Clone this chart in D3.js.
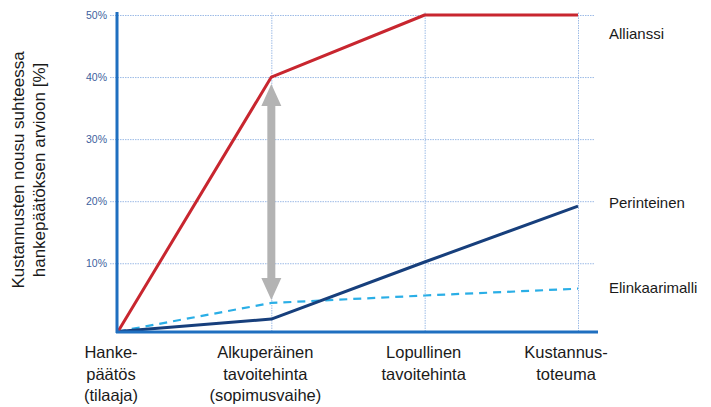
<!DOCTYPE html>
<html>
<head>
<meta charset="utf-8">
<script src="https://cdn.jsdelivr.net/npm/d3@7"></script>
<style>
  html, body { margin: 0; padding: 0; background: #fff; }
  svg { display: block; font-family: "Liberation Sans", Arial, sans-serif; }
</style>
</head>
<body>
<svg id="chart" width="711" height="407"></svg>
<script>
// Project phases along the x axis (multi-line labels)
const phases = [
  ["Hanke-", "päätös", "(tilaaja)"],
  ["Alkuperäinen", "tavoitehinta", "(sopimusvaihe)"],
  ["Lopullinen", "tavoitehinta"],
  ["Kustannus-", "toteuma"]
];
const phaseKeys = ["hankepaatos", "alkuperainen", "lopullinen", "toteuma"];

// Cost increase relative to the project decision estimate [%]
const allianssi = [-1, 40, 50, 50];
const perinteinen = [-1, 1.0, 10.2, 19.2];
const elinkaarimalli = [-1, 3.6, 4.8, 5.9];

const yTicks = [10, 20, 30, 40, 50];
const yTitle = ["Kustannusten nousu suhteessa", "hankepäätöksen arvioon [%]"];

const svg = d3.select("#chart");

const x = d3.scalePoint().domain(phaseKeys).range([118, 578]);
const y = d3.scaleLinear().domain([-1, 50]).range([331.5, 15]);

const gridColor = "#9dbbe6";
const axisColor = "#1f6fc0";

// Horizontal gridlines with ticks
const yAxis = d3.axisLeft(y).tickValues(yTicks).tickFormat(d => d + "%")
  .tickSize(-478).tickPadding(10);
const gy = svg.append("g").attr("transform", "translate(117,0)").call(yAxis);
gy.select(".domain").remove();
gy.selectAll(".tick line")
  .attr("x1", -7)
  .attr("stroke", gridColor).attr("stroke-width", 1).attr("stroke-dasharray", "1.5,1");
gy.selectAll(".tick text")
  .attr("fill", "#3d5f9e").attr("font-size", 10.5).attr("dy", "0.35em");

// Vertical gridlines at each later phase
const xAxis = d3.axisBottom(x).tickSize(-(331.5 - 12)).tickFormat("");
const gx = svg.append("g").attr("transform", "translate(0,331.5)").call(xAxis);
gx.select(".domain").remove();
gx.selectAll(".tick").filter((d, i) => i === 0).remove();
gx.selectAll(".tick line")
  .attr("stroke", gridColor).attr("stroke-width", 1).attr("stroke-dasharray", "1.5,1");

// Category labels below the axis
const labelShift = [-7, -6, -1, -12];
const lab = svg.append("g");
phaseKeys.forEach((k, i) => {
  const cx = x(k) + labelShift[i];
  const t = lab.append("text")
    .attr("x", cx).attr("y", 358)
    .attr("text-anchor", "middle").attr("font-size", 16.5).attr("fill", "#1a1a1a");
  phases[i].forEach((line, j) => {
    t.append("tspan").attr("x", cx).attr("dy", j === 0 ? 0 : 21.5).text(line);
  });
});

// Series lines
const lineGen = d3.line().x((d, i) => x(phaseKeys[i])).y(d => y(d));

svg.append("path").datum(elinkaarimalli)
  .attr("d", lineGen).attr("fill", "none")
  .attr("stroke", "#2aaee6").attr("stroke-width", 2.2).attr("stroke-dasharray", "8,6");

svg.append("path").datum(perinteinen)
  .attr("d", lineGen).attr("fill", "none")
  .attr("stroke", "#173f7c").attr("stroke-width", 3).attr("stroke-linejoin", "round");

svg.append("path").datum(allianssi)
  .attr("d", lineGen).attr("fill", "none")
  .attr("stroke", "#c8262f").attr("stroke-width", 3).attr("stroke-linejoin", "round");

// Double-headed arrow showing the gap at the original target price
const ax = x(phaseKeys[1]);
const yTop = y(allianssi[1]) + 7;
const yBot = y(elinkaarimalli[1]) - 3;
const head = 22, half = 10, shaft = 4;
svg.append("path")
  .attr("d", `M${ax},${yTop} L${ax + half},${yTop + head} L${ax + shaft},${yTop + head}
              L${ax + shaft},${yBot - head} L${ax + half},${yBot - head} L${ax},${yBot}
              L${ax - half},${yBot - head} L${ax - shaft},${yBot - head}
              L${ax - shaft},${yTop + head} L${ax - half},${yTop + head} Z`)
  .attr("fill", "#b3b3b3");

// Axis lines
svg.append("line").attr("x1", 117).attr("x2", 117).attr("y1", 12).attr("y2", 333)
  .attr("stroke", axisColor).attr("stroke-width", 3);
svg.append("line").attr("x1", 116).attr("x2", 598).attr("y1", 332).attr("y2", 332)
  .attr("stroke", axisColor).attr("stroke-width", 3);

// Series labels on the right
const seriesLabels = [
  { name: "Allianssi", v: allianssi[3] },
  { name: "Perinteinen", v: perinteinen[3] },
  { name: "Elinkaarimalli", v: elinkaarimalli[3] }
];
svg.append("g").selectAll("text").data(seriesLabels).join("text")
  .attr("x", 609)
  .attr("y", (d, i) => [39, 208, 293][i])
  .attr("font-size", 15).attr("fill", "#1a1a1a")
  .text(d => d.name);

// Y axis title
const tt = svg.append("text")
  .attr("transform", "translate(18,170) rotate(-90)")
  .attr("text-anchor", "middle").attr("font-size", 17).attr("fill", "#1a1a1a");
yTitle.forEach((line, i) => {
  tt.append("tspan").attr("x", 0).attr("dy", i === 0 ? "0.35em" : 21).text(line);
});
</script>
</body>
</html>
